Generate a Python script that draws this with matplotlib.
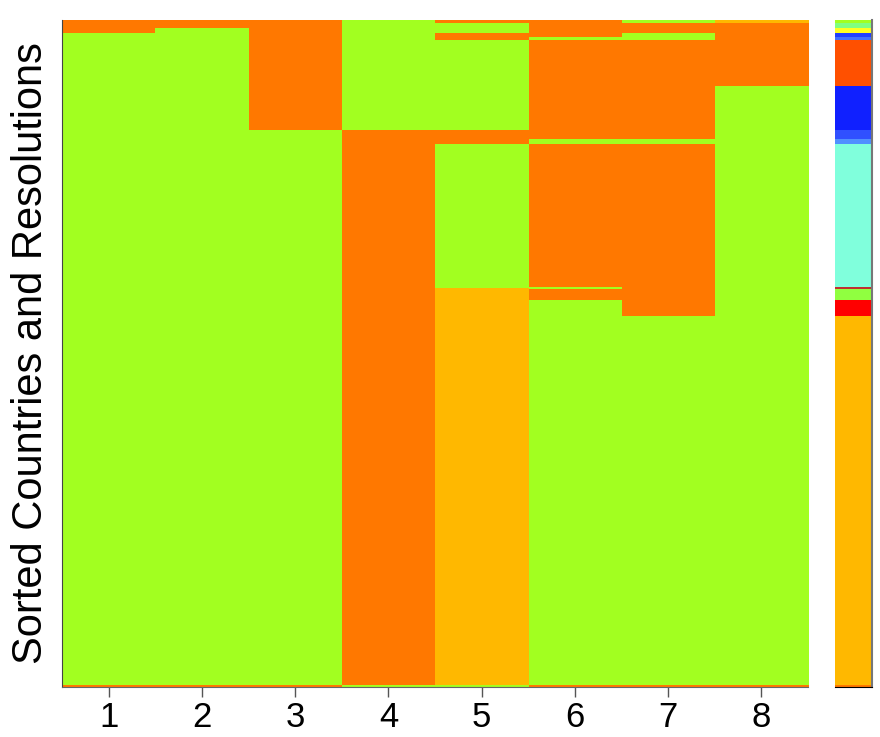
import numpy as np
import matplotlib
matplotlib.use("Agg")
import matplotlib.pyplot as plt

plt.rcParams['font.family'] = ['Liberation Sans', 'DejaVu Sans']

n_rows = 667  # sorted rows (countries x resolutions)

# colour codes
colors = {
    'G': '#a2ff20',  # green
    'O': '#ff7800',  # orange
    'A': '#ffb800',  # amber
    'L': '#80ff80',  # light green
    'Y': '#ffff20',  # yellow
    'B': '#2040ff',  # blue
    'b': '#4070ff',  # lighter blue
    'R': '#ff5000',  # orange-red
    'D': '#1020ff',  # deep blue
    'M': '#3050ff',  # medium blue
    'S': '#5090ff',  # sky blue
    'Q': '#80ffdc',  # aquamarine
    'K': '#c03030',  # dark red
    'H': '#90ff40',  # light lime
    'X': '#ff0000',  # red
}

# per column runs: (row where run ends, colour code), rows counted from top
col_runs = [
    [(13, 'O'), (665, 'G'), (667, 'O')],
    [(8, 'O'), (665, 'G'), (667, 'O')],
    [(110, 'O'), (665, 'G'), (667, 'O')],
    [(110, 'G'), (665, 'O'), (667, 'G')],
    [(3, 'O'), (13, 'G'), (20, 'O'), (110, 'G'), (124, 'O'), (268, 'G'), (665, 'A'), (667, 'G')],
    [(17, 'O'), (20, 'G'), (119, 'O'), (124, 'G'), (267, 'O'), (269, 'G'), (280, 'O'), (665, 'G'), (667, 'O')],
    [(3, 'G'), (13, 'O'), (20, 'G'), (119, 'O'), (124, 'G'), (296, 'O'), (665, 'G'), (667, 'O')],
    [(3, 'A'), (66, 'O'), (665, 'G'), (667, 'O')],
]

side_runs = [(3, 'G'), (8, 'L'), (13, 'Y'), (17, 'B'), (20, 'b'), (66, 'R'), (110, 'D'),
             (119, 'M'), (124, 'S'), (267, 'Q'), (269, 'K'), (280, 'H'), (296, 'X'),
             (665, 'A'), (667, 'O')]

col_labels = ['1', '2', '3', '4', '5', '6', '7', '8']


def runs_to_rgb(runs):
    out = np.zeros((n_rows, 3))
    start = 0
    for end, c in runs:
        out[start:end] = matplotlib.colors.to_rgb(colors[c])
        start = end
    return out


img = np.stack([runs_to_rgb(r) for r in col_runs], axis=1)
side = runs_to_rgb(side_runs)[:, None, :]

fig = plt.figure(figsize=(8.8, 7.37), dpi=100)
ax = fig.add_axes([62 / 880, 50 / 737, 746 / 880, 667 / 737])
ax.imshow(img, aspect='auto', interpolation='nearest',
          extent=(0.5, len(col_labels) + 0.5, n_rows, 0))
ax.set_xticks(np.arange(1, len(col_labels) + 1))
ax.set_xticklabels(col_labels, fontsize=25)
ax.set_yticks([])
ax.tick_params(axis='x', length=7, width=1, color='#555555', pad=3)
ax.set_ylabel('Sorted Countries and Resolutions', fontsize=30, labelpad=8)
for s in ['top', 'right']:
    ax.spines[s].set_visible(False)
ax.spines['left'].set_color('#444444')
ax.spines['bottom'].set_color('#666666')

ax2 = fig.add_axes([835 / 880, 50 / 737, 37 / 880, 667 / 737])
ax2.imshow(side, aspect='auto', interpolation='nearest', extent=(0, 1, n_rows, 0))
ax2.set_xticks([])
ax2.set_yticks([])
for s in ['top', 'left']:
    ax2.spines[s].set_visible(False)
ax2.spines['right'].set_color('#777777')
ax2.spines['right'].set_linewidth(1.5)
ax2.spines['bottom'].set_color('black')

fig.savefig('out.png', dpi=100)
